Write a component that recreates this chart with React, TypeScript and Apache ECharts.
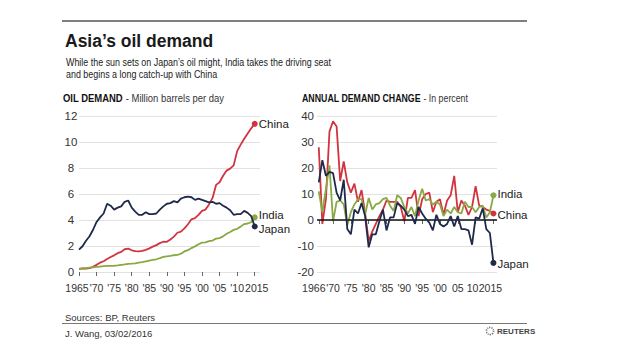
import React, { useEffect, useRef } from "react";
import * as echarts from "echarts";

// ---------- DATA ----------
const demandYears: number[] = Array.from({ length: 51 }, (_, i) => 1965 + i);
const changeYears: number[] = Array.from({ length: 50 }, (_, i) => 1966 + i);

// Oil demand, million barrels per day (1965-2015)
const chinaDemand = [
  0.22, 0.27, 0.27, 0.3, 0.4, 0.55, 0.72, 0.83, 1.0, 1.15,
  1.28, 1.45, 1.55, 1.75, 1.8, 1.67, 1.6, 1.58, 1.62, 1.7,
  1.82, 1.95, 2.07, 2.22, 2.33, 2.32, 2.5, 2.72, 3.02, 3.1,
  3.35, 3.67, 4.05, 4.15, 4.4, 4.7, 4.8, 5.2, 5.7, 6.7,
  6.9, 7.4, 7.8, 7.95, 8.2, 9.3, 9.8, 10.25, 10.65, 11.05,
  11.4,
];
const japanDemand = [
  1.72, 1.98, 2.4, 2.75, 3.25, 3.85, 4.2, 4.5, 5.25, 5.1,
  4.8, 4.95, 5.05, 5.4, 5.5, 4.95, 4.65, 4.4, 4.4, 4.6,
  4.45, 4.45, 4.5, 4.8, 5.05, 5.25, 5.3, 5.45, 5.35, 5.65,
  5.75, 5.8, 5.75, 5.55, 5.65, 5.55, 5.45, 5.35, 5.4, 5.25,
  5.3, 5.1, 4.95, 4.75, 4.4, 4.45, 4.45, 4.7, 4.55, 4.3,
  3.5,
];
const indiaDemand = [
  0.25, 0.27, 0.29, 0.33, 0.36, 0.39, 0.42, 0.45, 0.47, 0.47,
  0.48, 0.51, 0.55, 0.58, 0.63, 0.64, 0.67, 0.72, 0.76, 0.81,
  0.88, 0.93, 0.98, 1.07, 1.17, 1.21, 1.24, 1.29, 1.31, 1.41,
  1.58, 1.68, 1.84, 1.97, 2.13, 2.26, 2.28, 2.37, 2.42, 2.57,
  2.61, 2.74, 2.94, 3.08, 3.24, 3.32, 3.49, 3.69, 3.73, 3.84,
  4.2,
];

// Annual demand change, percent (1966-2015)
const chinaChange = [
  28, -1.5, 8, 34, 38, 36, 15, 22.5, 14.5, 10.5,
  14, 7, 11.5, 2.5, -8, -4.5, -1.5, 1.5, 4, 7.5,
  7, 7, 7, 5, -0.5, 8.5, 8.5, 11.5, 1.5, 8,
  10, 10.5, 3, 7, 8, 2, 7.5, 9.5, 17, 3,
  7.5, 5.5, 2, 5, 13, 5.5, 5, 4, 3.5, 2.5,
];
const japanChange = [
  14.5, 23, 17, 18.5, 18, 10.5, 7.5, 15.5, -3.5, -5.5,
  4, 2.5, 6.5, 1.5, -10.5, -5.5, -5.5, -0.5, 4, -4,
  1, 1, 6.5, 5.5, 4, 1.5, 2, -1.5, 5, 2.5,
  0.5, -1, -4, 2, -1.5, -2.5, -1.5, 1.5, -2.5, 1.5,
  -3.5, -3.5, -4, -9.5, 1, 0.5, 4.5, -3.5, -5, -16.5,
];
const indiaChange = [
  11, 3, 12, 21, -0.5, 7, 7.5, 6, -2, 3,
  6, 8, 8, 2, 8.5, 4, 6, 6.5, 8, 8.5,
  5.5, 3.5, 9.5, 8.5, 5, 2.5, 5, 1.5, 7.5, 12,
  7.5, 8, 6, 7, 6, 1.5, 4, 2.5, 5, 3,
  2.5, 7, 5, 5, 3, 5, 5.5, 1, 3, 9.5,
];

const leftTickYears = [1965, 1970, 1975, 1980, 1985, 1990, 1995, 2000, 2005, 2010, 2015];
const leftTickLabels = ["1965", "'70", "'75", "'80", "'85", "'90", "'95", "'00", "'05", "'10", "2015"];
const rightTickYears = [1966, 1970, 1975, 1980, 1985, 1990, 1995, 2000, 2005, 2010, 2015];
const rightTickLabels = ["1966", "'70", "'75", "'80", "'85", "'90", "'95", "'00", "05", "10", "2015"];

// ---------- STYLE ----------
const COLORS: Record<string, string> = { China: "#d1343f", Japan: "#1f2a4b", India: "#8aa843" };
const NARROW = "'Liberation Sans Narrow', 'Liberation Sans', Arial, sans-serif";
const SANS = "'Liberation Sans', Arial, sans-serif";
const XFS = 10.5;

function pairs(xs: number[], ys: number[]) {
  return ys.map((v, i) => [xs[i], v]);
}

function makeSeries(name: string, xs: number[], ys: number[], idx: number, labelOffset: number[], extra: any = {}) {
  const last = ys.length - 1;
  return {
    name,
    type: "line",
    xAxisIndex: idx,
    yAxisIndex: idx,
    data: pairs(xs, ys),
    symbol: "circle",
    showSymbol: true,
    symbolSize: (_v: any, p: any) => (p.dataIndex === last ? 6 : 0),
    lineStyle: { color: COLORS[name], width: 1.8 },
    itemStyle: { color: COLORS[name] },
    endLabel: {
      show: true,
      formatter: name,
      color: "#222",
      fontSize: 11.5,
      lineHeight: 12,
      fontFamily: NARROW,
      distance: 4,
      offset: labelOffset,
    },
    emphasis: { disabled: true },
    z: name === "China" ? 3 : name === "India" ? 4 : 5,
    ...extra,
  };
}

export default function App() {
  const ref = useRef<HTMLDivElement>(null);

  useEffect(() => {
    if (!ref.current) return;
    const chart = echarts.init(ref.current, undefined, { renderer: "svg" });

    const xLabelMap1: Record<number, string> = {};
    leftTickYears.forEach((y, i) => (xLabelMap1[y] = leftTickLabels[i]));
    const xLabelMap2: Record<number, string> = {};
    rightTickYears.forEach((y, i) => (xLabelMap2[y] = rightTickLabels[i]));

    const base = { fontSize: XFS, fontFamily: NARROW, color: "#333" };
    const labelRich = {
      shl10: { ...base, padding: [0, 10, 0, 0] },
      shl6: { ...base, padding: [0, 6, 0, 0] },
      shl4: { ...base, padding: [0, 4, 0, 0] },
      shr4: { ...base, padding: [0, 0, 0, 4] },
    };

    const xAxisBase = (
      minV: number,
      maxV: number,
      idx: number,
      ticks: number[],
      labelValues: number[],
      fmt: (v: number) => string,
      showTicks: boolean
    ) => ({
      type: "value",
      gridIndex: idx,
      position: "bottom",
      offset: 0,
      min: minV,
      max: maxV,
      splitLine: { show: false },
      axisLine: { show: false },
      axisTick: {
        show: showTicks,
        customValues: ticks,
        length: 4,
        lineStyle: { color: "#666", width: 1 },
      },
      axisLabel: {
        customValues: labelValues,
        formatter: fmt,
        showMinLabel: true,
        showMaxLabel: true,
        hideOverlap: false,
        ...base,
        margin: 10,
        rich: labelRich,
      },
    });

    const fmtLeft = (v: number) => {
      const y = Math.round(v);
      const t = xLabelMap1[y] ?? "";
      if (y === 1965) return `{shl4|${t}}`;
      if (y === 2015) return `{shr4|${t}}`;
      return t;
    };
    const fmtRight = (v: number) => {
      const y = Math.round(v);
      const t = xLabelMap2[y] ?? "";
      if (y === 1966) return `{shl10|${t}}`;
      if (y === 2010 || y === 2015) return `{shl6|${t}}`;
      return t;
    };

    const leftInner = leftTickYears.slice(1, -1);
    const leftEnds = [leftTickYears[0], leftTickYears[leftTickYears.length - 1]];
    const rightInner = rightTickYears.slice(1, -1);
    const rightEnds = [rightTickYears[0], rightTickYears[rightTickYears.length - 1]];

    const option: any = {
      animation: false,
      backgroundColor: "#ffffff",
      grid: [
        { left: 79, top: 116, width: 181, height: 156 },
        { left: 317, top: 116, width: 180, height: 156 },
      ],
      xAxis: [
        xAxisBase(1965, 2016.5, 0, leftTickYears, leftInner, fmtLeft, true),
        xAxisBase(1965.5, 2016, 1, rightTickYears, rightInner, fmtRight, true),
        xAxisBase(1965, 2016.5, 0, leftTickYears, leftEnds, fmtLeft, false),
        xAxisBase(1965.5, 2016, 1, rightTickYears, rightEnds, fmtRight, false),
      ],
      yAxis: [
        {
          type: "value",
          gridIndex: 0,
          min: 0,
          max: 12,
          interval: 2,
          axisLine: { show: false },
          axisTick: { show: false },
          splitLine: { show: true, lineStyle: { color: "#e2e2e2", width: 1 } },
          axisLabel: { color: "#333", fontSize: 11.5, fontFamily: NARROW, align: "center", margin: 8 },
        },
        {
          type: "value",
          gridIndex: 1,
          min: -20,
          max: 40,
          interval: 10,
          axisLine: { show: false },
          axisTick: { show: false },
          splitLine: { show: true, lineStyle: { color: "#e2e2e2", width: 1 } },
          axisLabel: { color: "#333", fontSize: 11.5, fontFamily: NARROW, align: "right", margin: 3 },
        },
      ],
      series: [
        makeSeries("China", demandYears, chinaDemand, 0, [0, 0]),
        makeSeries("Japan", demandYears, japanDemand, 0, [0, 2]),
        makeSeries("India", demandYears, indiaDemand, 0, [0, -2.5]),
        makeSeries("China", changeYears, chinaChange, 1, [0, 1.5], {
          markLine: {
            silent: true,
            symbol: "none",
            label: { show: false },
            lineStyle: { color: "#111", width: 1.5, type: "solid" },
            data: [{ yAxis: 0 }],
          },
        }),
        makeSeries("India", changeYears, indiaChange, 1, [0, -1]),
        makeSeries("Japan", changeYears, japanChange, 1, [0, 1]),
      ],
      graphic: [
        { type: "line", shape: { x1: 62, y1: 21, x2: 527, y2: 21 }, style: { stroke: "#555", lineWidth: 1.5 } },
        {
          type: "text",
          x: 65,
          y: 41,
          style: { text: "Asia\u2019s oil demand", font: `bold 17.5px ${SANS}`, fill: "#1a1a1a", verticalAlign: "middle" },
        },
        {
          type: "text",
          x: 66,
          y: 62,
          scaleX: 0.85,
          style: {
            text: "While the sun sets on Japan\u2019s oil might, India takes the driving seat",
            font: `10.5px ${NARROW}`,
            fill: "#222",
            verticalAlign: "middle",
          },
        },
        {
          type: "text",
          x: 66,
          y: 74,
          scaleX: 0.85,
          style: { text: "and begins a long catch-up with China", font: `10.5px ${NARROW}`, fill: "#222", verticalAlign: "middle" },
        },
        {
          type: "text",
          x: 63,
          y: 98,
          scaleX: 0.86,
          style: {
            text: "{b|OIL DEMAND} {r|- Million barrels per day}",
            verticalAlign: "middle",
            rich: {
              b: { font: `bold 11px ${NARROW}`, fill: "#111" },
              r: { font: `11px ${NARROW}`, fill: "#333" },
            },
          },
        },
        {
          type: "text",
          x: 302,
          y: 98,
          scaleX: 0.8,
          style: {
            text: "{b|ANNUAL DEMAND CHANGE} {r|- In percent}",
            verticalAlign: "middle",
            rich: {
              b: { font: `bold 11px ${NARROW}`, fill: "#111" },
              r: { font: `11px ${NARROW}`, fill: "#333" },
            },
          },
        },
        {
          type: "text",
          x: 65,
          y: 317,
          style: { text: "Sources: BP, Reuters", font: `9.5px ${NARROW}`, fill: "#333", verticalAlign: "middle" },
        },
        { type: "line", shape: { x1: 62, y1: 323.5, x2: 527, y2: 323.5 }, style: { stroke: "#777", lineWidth: 1 } },
        {
          type: "text",
          x: 65,
          y: 333,
          style: { text: "J. Wang, 03/02/2016", font: `9.5px ${NARROW}`, fill: "#333", verticalAlign: "middle" },
        },
        { type: "circle", shape: { cx: 490, cy: 331, r: 3.6 }, style: { fill: "none", stroke: "#777", lineWidth: 1.6, lineDash: [1.2, 1] } },
        {
          type: "text",
          x: 497,
          y: 331,
          style: { text: "REUTERS", font: `bold 8px ${NARROW}`, fill: "#444", verticalAlign: "middle" },
        },
      ],
    };

    chart.setOption(option);
    return () => chart.dispose();
  }, []);

  return (
    <div
      ref={ref}
      style={{ position: "fixed", left: 0, top: 0, width: 620, height: 355, background: "#fff" }}
    />
  );
}
